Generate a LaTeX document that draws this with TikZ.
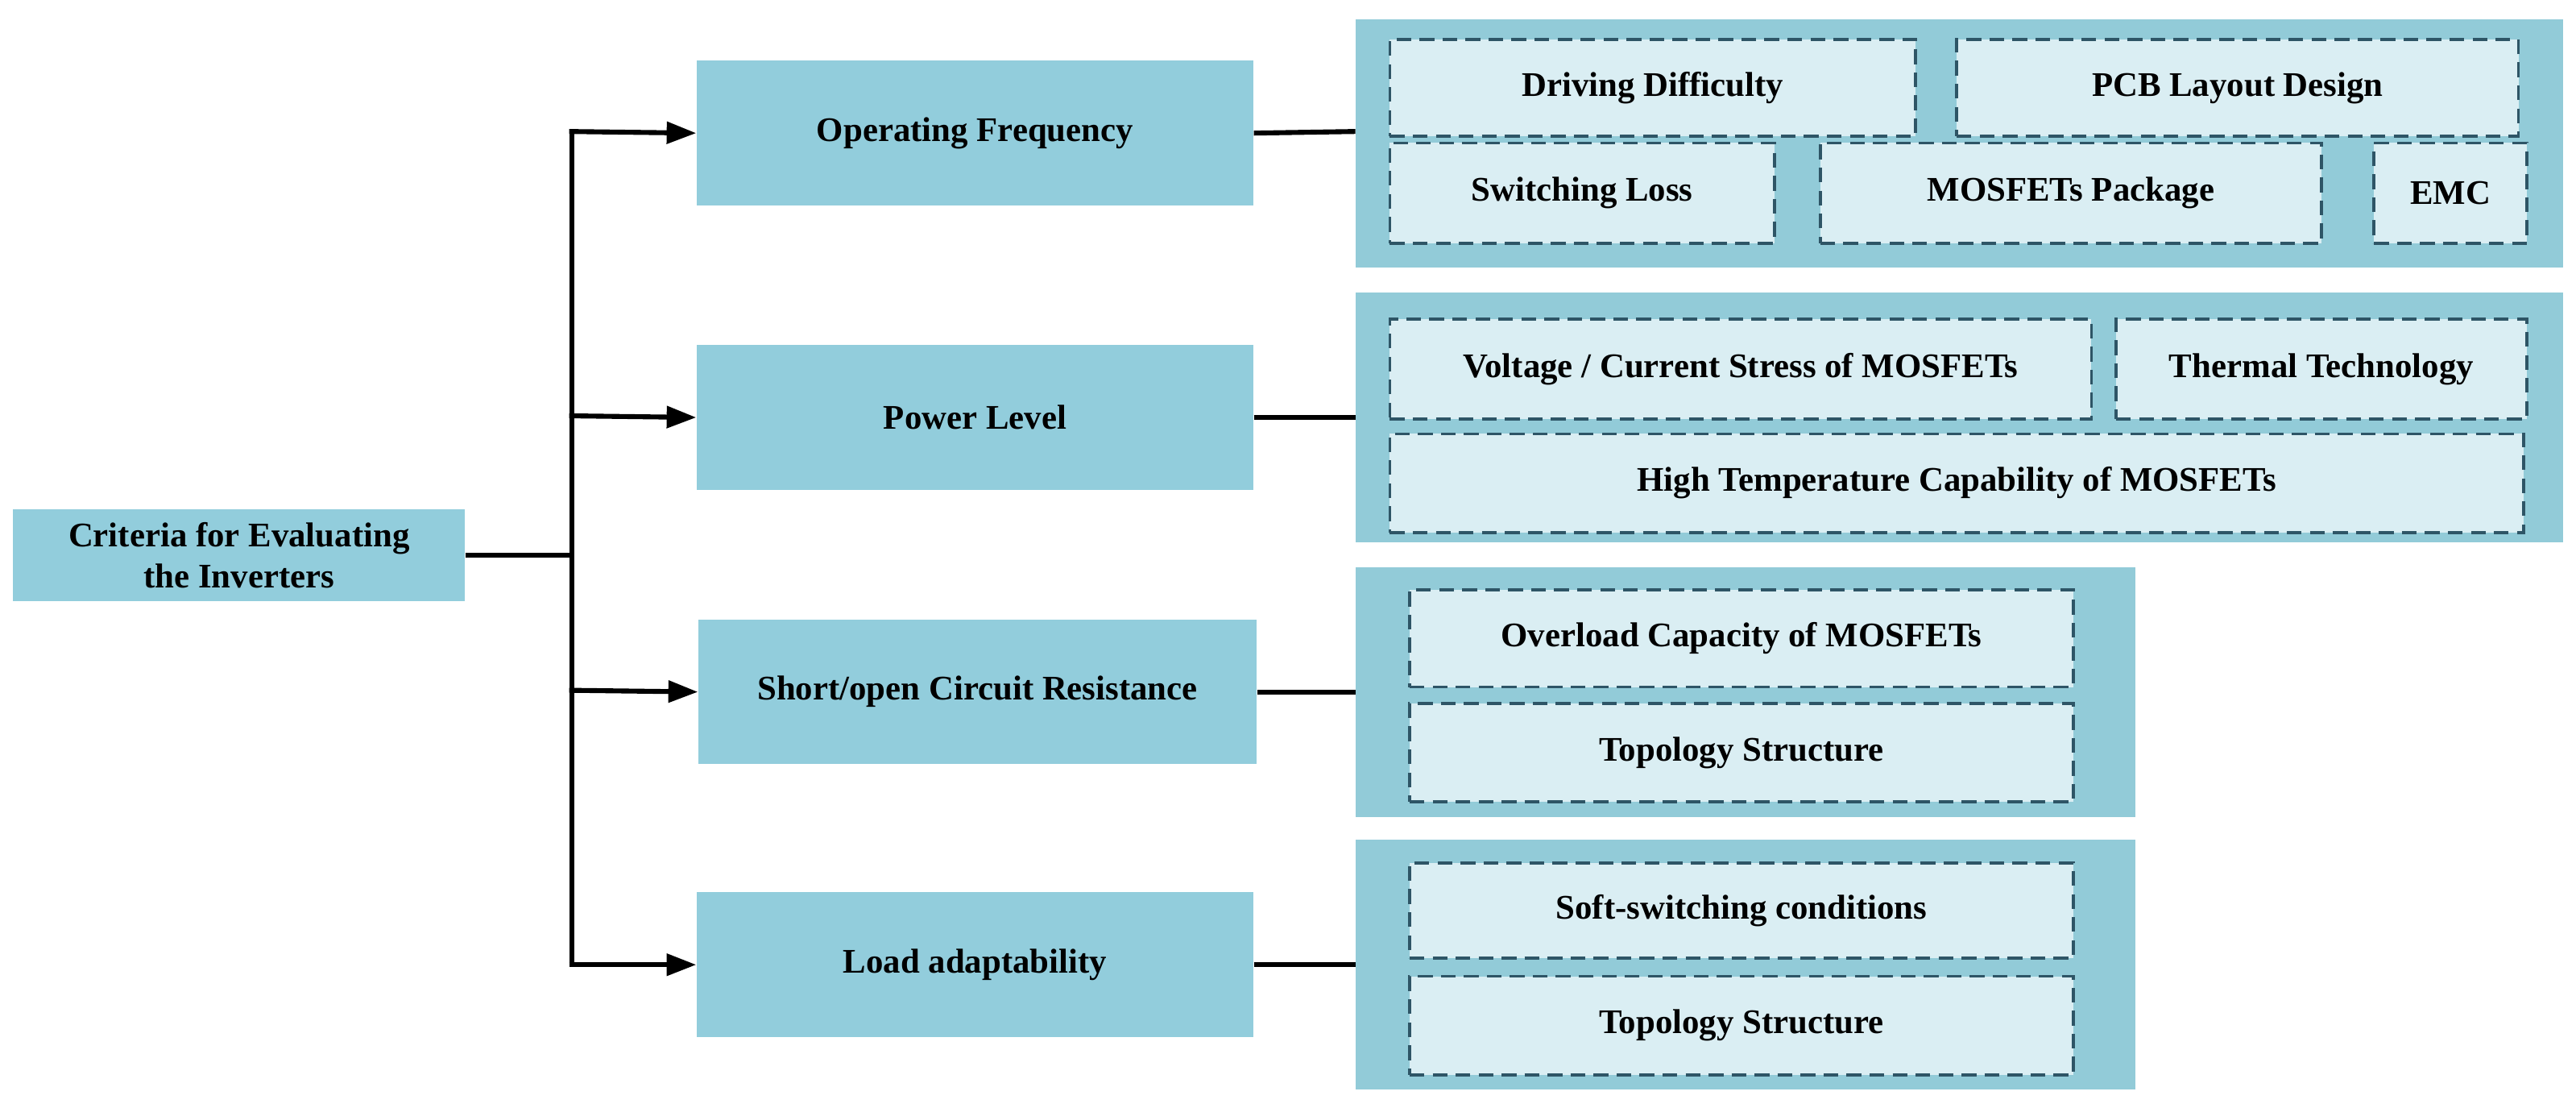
\documentclass[tikz,border=0pt]{standalone}
\usepackage{fontspec}
\setmainfont{Liberation Serif}
\usetikzlibrary{arrows.meta}
\definecolor{boxc}{HTML}{92CDDC}
\definecolor{panc}{HTML}{92CBD8}
\definecolor{subc}{HTML}{DAEEF3}
\definecolor{dash}{HTML}{2E5566}
\begin{document}
\begin{tikzpicture}[x=1pt,y=-1pt,
 tf/.style={font=\bfseries\fontsize{21}{25}\selectfont,align=center},
 box/.style={fill=boxc,draw=none},
 sub/.style={fill=subc,draw=dash,dash pattern=on 9pt off 5pt,line width=1.8pt},
 conn/.style={line width=3pt},
 arr/.style={line width=3pt,-{Triangle[length=18pt,width=13pt]}}]
\useasboundingbox (0,0) rectangle (1568,674);
\fill[panc] (825,12) rectangle (1560,163);
\fill[panc] (825,178) rectangle (1560,330);
\fill[panc] (825,345) rectangle (1300,497);
\fill[panc] (825,511) rectangle (1300,663);
\newcommand\bx[7]{\node[#6,minimum width=#3-#1,minimum height=#4-#2,inner sep=0] (#5) at ({(#1+#3)/2},{(#2+#4)/2}) {};\node[tf] at (#5) {#7};}
\bx{8}{310}{283}{366}{root}{box}{Criteria for Evaluating\\the Inverters}
\bx{424}{37}{763}{125}{of}{box}{Operating Frequency}
\bx{424}{210}{763}{298}{pl}{box}{Power Level}
\bx{425}{377}{765}{465}{so}{box}{Short/open Circuit Resistance}
\bx{424}{543}{763}{631}{la}{box}{Load adaptability}
\bx{846}{24}{1166}{83}{a1}{sub}{Driving Difficulty}
\bx{1191}{24}{1533}{83}{a2}{sub}{PCB Layout Design}
\bx{846}{87}{1080}{148}{a3}{sub}{Switching Loss}
\bx{1108}{87}{1413}{148}{a4}{sub}{MOSFETs Package}
\bx{1445}{87}{1538}{148}{a5}{sub}{EMC}
\bx{846}{194}{1273}{255}{b1}{sub}{Voltage / Current Stress of MOSFETs}
\bx{1288}{194}{1538}{255}{b2}{sub}{Thermal Technology}
\bx{846}{264}{1536}{324}{b3}{sub}{High Temperature Capability of MOSFETs}
\bx{858}{359}{1262}{418}{c1}{sub}{Overload Capacity of MOSFETs}
\bx{858}{428}{1262}{488}{c2}{sub}{Topology Structure}
\bx{858}{525}{1262}{583}{d1}{sub}{Soft-switching conditions}
\bx{858}{594}{1262}{654}{d2}{sub}{Topology Structure}
\coordinate (t0) at (348,338);
\coordinate (t1) at (348,80);
\coordinate (t4) at (348,587);
\draw[conn] (root.east) -- (t0);
\draw[conn] (348,78.5) -- (348,588.5);
\draw[arr] (346.5,80) -- (of.west);
\draw[arr] (346.5,253) -- (pl.west);
\draw[arr] (346.5,420) -- (so.west);
\draw[arr] (346.5,587) -- (la.west);
\draw[conn] (of.east) -- (825,80);
\draw[conn] (pl.east) -- (825,254);
\draw[conn] (so.east) -- (825,421);
\draw[conn] (la.east) -- (825,587);
\end{tikzpicture}
\end{document}
